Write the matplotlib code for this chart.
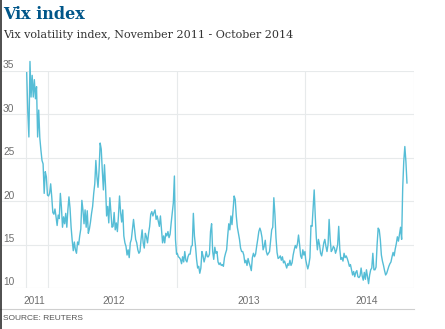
import numpy as np
import pandas as pd
import matplotlib
matplotlib.use('Agg')
import matplotlib.pyplot as plt
import matplotlib.dates as mdates
import matplotlib.transforms as mtransforms
from matplotlib.lines import Line2D

# Vix closing levels, ten readings a month (the last month stops on Oct 17)
vix_2011 = [
    34.8, 30.3, 27.4, 36.1, 32.0, 34.5, 32.0, 34.0, 31.8, 33.2,   # nov
    27.4, 30.5, 27.3, 25.9, 24.7, 24.3, 20.9, 23.4, 22.8, 20.7,   # dec
]
vix_2012 = [
    20.6, 20.9, 22.0, 20.5, 18.7, 18.5, 19.1, 18.2, 17.2, 18.4,   # jan
    18.0, 20.9, 19.3, 17.0, 18.2, 17.4, 18.6, 17.0, 19.0, 20.5,   # feb
    19.2, 17.0, 15.5, 14.3, 15.3, 14.4, 14.0, 15.3, 15.0, 16.0,   # mar
    16.8, 20.1, 19.0, 17.4, 19.0, 17.0, 18.9, 16.3, 16.8, 17.6,   # apr
    18.6, 19.4, 20.9, 22.0, 24.7, 22.8, 21.6, 23.6, 26.7, 26.0,   # may
    23.5, 21.3, 24.2, 21.7, 18.3, 19.4, 17.5, 20.4, 18.7, 17.0,   # jun
    17.1, 18.7, 16.7, 17.5, 16.5, 18.3, 20.6, 18.7, 17.6, 19.0,   # jul
    16.0, 15.2, 14.8, 13.8, 14.4, 13.5, 15.2, 15.6, 16.7, 17.9,   # aug
    16.7, 15.6, 15.2, 14.4, 14.0, 14.2, 15.6, 16.7, 15.2, 14.6,   # sep
    16.3, 15.9, 15.2, 16.3, 17.1, 18.5, 18.8, 18.3, 18.7, 19.0,   # oct
    17.9, 18.3, 17.7, 17.1, 18.3, 16.7, 15.2, 16.0, 15.2, 16.3,   # nov
    16.0, 16.5, 15.8, 16.2, 17.5, 18.6, 19.8, 22.9, 15.6, 13.9,   # dec
]
vix_2013 = [
    14.0, 13.6, 13.5, 13.3, 12.8, 13.6, 13.0, 14.2, 13.2, 13.0,   # jan
    13.6, 13.9, 13.9, 14.8, 14.9, 18.6, 16.0, 14.8, 13.3, 12.3,   # feb
    12.5, 11.7, 12.3, 14.2, 13.7, 13.0, 13.5, 14.2, 13.6, 13.6,   # mar
    13.9, 16.5, 17.4, 14.2, 13.3, 14.7, 14.0, 14.2, 13.0, 12.7,   # apr
    12.9, 12.6, 12.7, 12.5, 13.5, 14.0, 14.4, 16.0, 17.4, 16.7,   # may
    18.3, 17.3, 19.0, 20.6, 20.2, 18.3, 17.0, 16.3, 15.6, 14.6,   # jun
    14.2, 14.2, 13.8, 12.9, 13.2, 12.6, 13.4, 12.9, 12.5, 12.0,   # jul
    13.5, 14.0, 13.6, 13.9, 14.8, 15.6, 16.5, 16.9, 16.5, 15.8,   # aug
    14.4, 14.8, 15.5, 14.2, 13.8, 14.0, 14.2, 15.5, 16.7, 17.0,   # sep
    20.4, 18.5, 15.8, 14.1, 13.4, 13.5, 13.7, 13.2, 13.6, 12.9,   # oct
    13.1, 12.7, 12.3, 12.8, 12.6, 13.2, 12.6, 12.9, 13.8, 14.4,   # nov
    14.9, 14.6, 15.1, 16.1, 15.0, 13.7, 13.4, 14.4, 13.8, 14.2,   # dec
]
vix_2014 = [
    13.3, 12.7, 12.2, 12.7, 13.5, 17.2, 17.1, 19.3, 21.3, 18.3,   # jan
    15.8, 14.4, 15.6, 15.0, 14.0, 13.7, 14.4, 15.2, 15.6, 14.8,   # feb
    14.2, 15.0, 17.9, 15.6, 14.2, 14.4, 14.8, 14.6, 14.0, 14.4,   # mar
    15.0, 17.1, 14.5, 13.3, 13.5, 13.1, 14.0, 13.5, 13.7, 13.4,   # apr
    13.0, 12.5, 12.7, 12.1, 11.5, 11.9, 11.3, 11.8, 12.0, 11.3,   # may
    11.2, 11.4, 12.3, 11.4, 10.9, 11.8, 11.0, 12.1, 11.3, 10.5,   # jun
    11.5, 12.1, 12.3, 14.0, 12.1, 12.1, 12.4, 15.0, 16.9, 16.7,   # jul
    15.6, 13.8, 13.1, 12.6, 12.0, 11.5, 11.7, 12.1, 12.5, 12.8,   # aug
    13.0, 13.6, 14.1, 13.7, 14.5, 15.1, 15.9, 15.4, 16.2, 17.0,   # sep
    15.6, 21.5, 24.6, 26.3, 24.6, 22.1,                           # oct
]
year_spans = [('2011-11-01', '2011-12-30'), ('2012-01-02', '2012-12-31'),
              ('2013-01-02', '2013-12-31'), ('2014-01-02', '2014-10-17')]

year_labels = ['2011', '2012', '2013', '2014']
year_label_dates = ['2011-11-23', '2012-07-05', '2013-07-24', '2014-06-25']
year_lines = ['2012-01-01', '2013-01-01', '2014-01-01']
y_ticks = [10, 15, 20, 25, 30, 35]

W, H = 445, 329
line_col = '#55bdd6'
grid_col = '#e7eaeb'
label_col = '#6e6e6e'

fig = plt.figure(figsize=(W / 100, H / 100), dpi=100)
fig.patch.set_facecolor('white')

# plot box: 2..414 px across, 71..288 px down
ax = fig.add_axes([2 / W, 1 - 288 / H, 412 / W, 217 / H])
ax.set_facecolor('white')

x_first = mdates.date2num(pd.Timestamp('2011-10-30'))
x_last = mdates.date2num(pd.Timestamp('2014-11-06'))
px_per_day = (414 - 26) / (x_last - x_first)
ax.set_xlim(x_first - 24 / px_per_day, x_last)
ax.set_ylim(10, 35)

dates = []
for (d0, d1), vals in zip(year_spans, [vix_2011, vix_2012, vix_2013, vix_2014]):
    t0 = mdates.date2num(pd.Timestamp(d0))
    t1 = mdates.date2num(pd.Timestamp(d1))
    dates.append(np.linspace(t0, t1, len(vals)))
dates = np.concatenate(dates)
values = np.array(vix_2011 + vix_2012 + vix_2013 + vix_2014)

for v in y_ticks:
    ax.axhline(v, color=grid_col, lw=0.8, zorder=0)
for d in [x_first, x_last] + [mdates.date2num(pd.Timestamp(s)) for s in year_lines]:
    ax.axvline(d, color=grid_col, lw=0.8, zorder=0)

ax.plot(dates, values, color=line_col, lw=1.0, clip_on=False, zorder=3,
        solid_joinstyle='round')

for s in ax.spines.values():
    s.set_visible(False)
ax.set_xticks([])
ax.set_yticks([])

for v in y_ticks:
    ax.text(1 / 412, v + 0.3, str(v), transform=ax.get_yaxis_transform(),
            ha='left', va='baseline', fontsize=7.3, color=label_col,
            family='Liberation Sans')

trans = mtransforms.blended_transform_factory(ax.transData, fig.transFigure)
for lab, d in zip(year_labels, year_label_dates):
    ax.text(mdates.date2num(pd.Timestamp(d)), 1 - 304 / H, lab, transform=trans,
            ha='center', va='baseline', fontsize=7.3, color=label_col,
            family='Liberation Sans')

fig.add_artist(Line2D([0, 414 / W], [1 - 309.3 / H] * 2, color='#cfcfcf', lw=0.8))
fig.add_artist(Line2D([0.7 / W] * 2, [0, 1], color='#1e1e1e', lw=1.1))

fig.text(3 / W, 1 - 320 / H, 'SOURCE: REUTERS', ha='left', va='baseline',
         fontsize=6, color='#555555', family='Liberation Sans')
fig.text(3 / W, 1 - 19.3 / H, 'Vix index', ha='left', va='baseline',
         fontsize=11.5, fontweight='bold', color='#005689', family='DejaVu Serif')
fig.text(3 / W, 1 - 38.3 / H, 'Vix volatility index, November 2011 - October 2014',
         ha='left', va='baseline', fontsize=8, color='#333333', family='DejaVu Serif')

fig.savefig('out.png', dpi=100, facecolor='white')
